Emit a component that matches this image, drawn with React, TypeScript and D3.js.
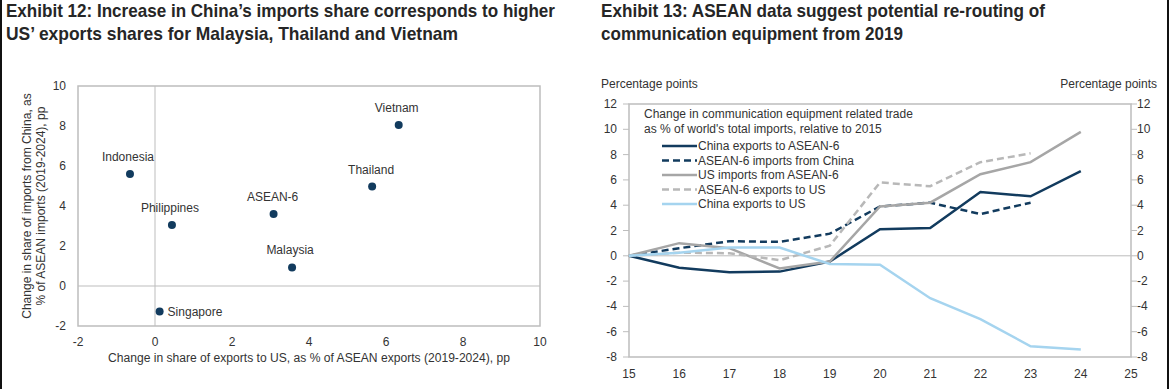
import React from 'react';
import * as d3 from 'd3';

// Exhibit 12 - scatter
const countries = ['Indonesia', 'Philippines', 'ASEAN-6', 'Malaysia', 'Singapore', 'Vietnam', 'Thailand'];
const exportsShare = [-0.65, 0.44, 3.08, 3.56, 0.12, 6.33, 5.64];
const importsShare = [5.6, 3.05, 3.6, 0.93, -1.28, 8.05, 4.97];
const scatterTicks = [-2, 0, 2, 4, 6, 8, 10];

// Exhibit 13 - lines
const years = [15, 16, 17, 18, 19, 20, 21, 22, 23, 24];
const yearTicks = [15, 16, 17, 18, 19, 20, 21, 22, 23, 24, 25];
const chinaToAsean = [0, -0.95, -1.3, -1.25, -0.45, 2.1, 2.2, 5.05, 4.7, 6.7];
const aseanFromChina = [0, 0.6, 1.15, 1.1, 1.75, 3.9, 4.2, 3.3, 4.2];
const usFromAsean = [0, 1.0, 0.6, -1.0, -0.45, 3.9, 4.2, 6.45, 7.4, 9.8];
const aseanToUs = [0, 0.25, 0.2, -0.35, 0.8, 5.8, 5.5, 7.4, 8.1];
const chinaToUs = [0, 0.25, 0.65, 0.65, -0.65, -0.7, -3.35, -5.0, -7.15, -7.4];
const lineTicks = [12, 10, 8, 6, 4, 2, 0, -2, -4, -6, -8];

const NAVY = '#123b5e';
const GRAY = '#a6a6a6';
const LGRAY = '#b8b8b8';
const LBLUE = '#a5d4ef';
const TXT = '#333333';
const BOX = '#bdbdbd';

const seriesList = [
  { name: 'China exports to ASEAN-6', values: chinaToAsean, color: NAVY, dash: '' },
  { name: 'ASEAN-6 imports from China', values: aseanFromChina, color: NAVY, dash: '7,4' },
  { name: 'US imports from ASEAN-6', values: usFromAsean, color: GRAY, dash: '' },
  { name: 'ASEAN-6 exports to US', values: aseanToUs, color: LGRAY, dash: '7,4' },
  { name: 'China exports to US', values: chinaToUs, color: LBLUE, dash: '' },
];

// label offsets relative to the point
const labelPos: Record<string, [number, number, string]> = {
  Indonesia: [-2, -13, 'middle'],
  Philippines: [-2, -13, 'middle'],
  'ASEAN-6': [-1, -13, 'middle'],
  Malaysia: [-2, -13, 'middle'],
  Singapore: [8, 4, 'start'],
  Vietnam: [-2, -13, 'middle'],
  Thailand: [-1, -13, 'middle'],
};

const font = 'Liberation Sans, Arial, sans-serif';

// title lines with their target widths (narrow bold face in the original)
const titles = [
  { text: 'Exhibit 12: Increase in China’s imports share corresponds to higher', x: 6, y: 17, w: 549 },
  { text: 'US’ exports shares for Malaysia, Thailand and Vietnam', x: 6, y: 40, w: 452 },
  { text: 'Exhibit 13: ASEAN data suggest potential re-routing of', x: 601, y: 17, w: 444 },
  { text: 'communication equipment from 2019', x: 601, y: 40, w: 302 },
];

const App: React.FC = () => {
  // scatter scales
  const sx = d3.scaleLinear().domain([-2, 10]).range([78, 540]);
  const sy = d3.scaleLinear().domain([-2, 10]).range([326, 86]);

  // line chart scales
  const lx = d3.scaleLinear().domain([15, 25]).range([629, 1131]);
  const ly = d3.scaleLinear().domain([-8, 12]).range([357, 104]);
  const line = d3
    .line<number>()
    .x((_, i) => lx(years[i]))
    .y((d) => ly(d));

  const legendY = [146, 160.5, 175, 189.5, 204];

  return (
    <svg width={1170} height={389} style={{ position: 'absolute', left: 0, top: 0, background: '#fff' }}>
      <rect x={0} y={0} width={1170} height={389} fill="#fff" />
      <line x1={1} x2={1} y1={0} y2={389} stroke="#111" strokeWidth={2} />
      <line x1={1168} x2={1168} y1={0} y2={389} stroke="#111" strokeWidth={2} />

      {/* titles */}
      <g fontFamily={font} fontWeight="bold" fontSize={19} fill="#262626">
        {titles.map((t) => (
          <text key={t.text} x={t.x} y={t.y} textLength={t.w} lengthAdjust="spacingAndGlyphs">
            {t.text}
          </text>
        ))}
      </g>

      {/* Exhibit 12 */}
      <g fontFamily={font} fill={TXT}>
        <rect x={sx(-2)} y={sy(10)} width={sx(10) - sx(-2)} height={sy(-2) - sy(10)} fill="none" stroke={BOX} strokeWidth={1.5} />
        <line x1={sx(0)} x2={sx(0)} y1={sy(10)} y2={sy(-2)} stroke={BOX} strokeWidth={1} />
        <line x1={sx(-2)} x2={sx(10)} y1={sy(0)} y2={sy(0)} stroke={BOX} strokeWidth={1} />
        {scatterTicks.map((t) => (
          <text key={'sx' + t} x={sx(t)} y={346} fontSize={12} textAnchor="middle">
            {t}
          </text>
        ))}
        {scatterTicks.map((t) => (
          <text key={'sy' + t} x={66} y={sy(t) + 4} fontSize={12} textAnchor="end">
            {t}
          </text>
        ))}
        <text x={309} y={362} fontSize={12} textAnchor="middle" textLength={402} lengthAdjust="spacingAndGlyphs">
          Change in share of exports to US, as % of ASEAN exports (2019-2024), pp
        </text>
        <g transform="translate(31,206) rotate(-90)">
          <text x={0} y={0} fontSize={12} textAnchor="middle">
            Change in share of imports from China, as
          </text>
          <text x={0} y={14} fontSize={12} textAnchor="middle">
            % of ASEAN imports (2019-2024), pp
          </text>
        </g>
        {countries.map((c, i) => {
          const [dx, dy, anchor] = labelPos[c];
          const px = sx(exportsShare[i]);
          const py = sy(importsShare[i]);
          return (
            <g key={c}>
              <circle cx={px} cy={py} r={4} fill={NAVY} />
              <text x={px + dx} y={py + dy} fontSize={12} textAnchor={anchor as any}>
                {c}
              </text>
            </g>
          );
        })}
      </g>

      {/* Exhibit 13 */}
      <g fontFamily={font} fill={TXT}>
        <text x={601} y={88} fontSize={12}>Percentage points</text>
        <text x={1157} y={88} fontSize={12} textAnchor="end">Percentage points</text>
        <rect x={lx(15)} y={ly(12)} width={lx(25) - lx(15)} height={ly(-8) - ly(12)} fill="none" stroke={BOX} strokeWidth={1.5} />
        <line x1={lx(15)} x2={lx(25)} y1={ly(0)} y2={ly(0)} stroke={BOX} strokeWidth={1} />
        {lineTicks.map((t) => (
          <g key={'ly' + t}>
            <line x1={lx(15) - 6} x2={lx(15)} y1={ly(t)} y2={ly(t)} stroke={BOX} />
            <line x1={lx(25)} x2={lx(25) + 6} y1={ly(t)} y2={ly(t)} stroke={BOX} />
            <text x={617} y={ly(t) + 4} fontSize={12} textAnchor="end">
              {t}
            </text>
            <text x={1137} y={ly(t) + 4} fontSize={12}>
              {t}
            </text>
          </g>
        ))}
        {yearTicks.map((t) => (
          <text key={'lx' + t} x={lx(t)} y={378} fontSize={12} textAnchor="middle">
            {t}
          </text>
        ))}
        {seriesList.map((s) => (
          <path key={s.name} d={line(s.values) || ''} fill="none" stroke={s.color} strokeWidth={2.5} strokeDasharray={s.dash || undefined} />
        ))}
        <text x={644} y={118} fontSize={12}>Change in communication equipment related trade</text>
        <text x={644} y={132.5} fontSize={12}>as % of world's total imports, relative to 2015</text>
        {seriesList.map((s, i) => (
          <g key={'lg' + s.name}>
            <line x1={662} x2={697} y1={legendY[i]} y2={legendY[i]} stroke={s.color} strokeWidth={2.5} strokeDasharray={s.dash || undefined} />
            <text x={698} y={legendY[i] + 4} fontSize={12}>
              {s.name}
            </text>
          </g>
        ))}
      </g>
    </svg>
  );
};

export default App;
